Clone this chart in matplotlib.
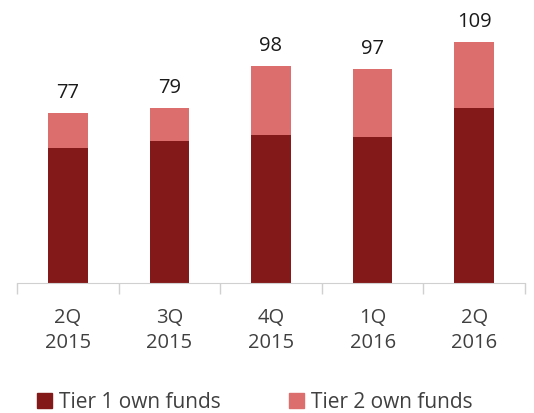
import matplotlib
matplotlib.use("Agg")
import matplotlib.pyplot as plt
from matplotlib.patches import Patch

categories = ["2Q\n2015", "3Q\n2015", "4Q\n2015", "1Q\n2016", "2Q\n2016"]
tier1 = [61, 64, 67, 66, 79]
tier2 = [16, 15, 31, 31, 30]
totals = [77, 79, 98, 97, 109]

c1 = "#831919"
c2 = "#DD6E6E"
plt.rcParams['font.family'] = ['Open Sans', 'DejaVu Sans']

fig = plt.figure(figsize=(5.34, 4.14), dpi=100)
ax = fig.add_axes([17/534, (414-283.5)/414, (525-17)/534, 283.5/414])
x = list(range(len(categories)))
w = 0.39
ax.bar(x, tier1, width=w, color=c1, edgecolor="none", label="Tier 1 own funds")
ax.bar(x, tier2, width=w, bottom=tier1, color=c2, edgecolor="none", label="Tier 2 own funds")
for xi, t in zip(x, totals):
    ax.annotate(str(t), (xi, t), xytext=(0, 8), textcoords="offset points",
                ha="center", va="bottom", fontsize=14.5, color="#1a1a1a")

ax.set_xlim(-0.5, 4.5)
ax.set_ylim(0, 128.6)
for s in ["top", "right", "left"]:
    ax.spines[s].set_visible(False)
ax.spines["bottom"].set_color("#d0d0d0")
ax.set_yticks([])
ax.set_xticks(x)
ax.set_xticklabels(categories, fontsize=14.5, color="#404040", linespacing=1.33)
ax.tick_params(axis="x", length=0, pad=18)
ax.set_xticks([i - 0.5 for i in range(len(categories) + 1)], minor=True)
ax.tick_params(axis="x", which="minor", length=8, color="#d0d0d0", width=1)

handles = [Patch(color=c1), Patch(color=c2)]
fig.legend(handles, ["Tier 1 own funds", "Tier 2 own funds"], loc="center left",
           bbox_to_anchor=(37/534, (414-403)/414), ncol=2, frameon=False,
           fontsize=15, handlelength=0.7, handleheight=0.7, handletextpad=0.35,
           columnspacing=3.3, labelcolor="#404040", borderpad=0.0, borderaxespad=0.0)
fig.savefig("out.png", dpi=100)
